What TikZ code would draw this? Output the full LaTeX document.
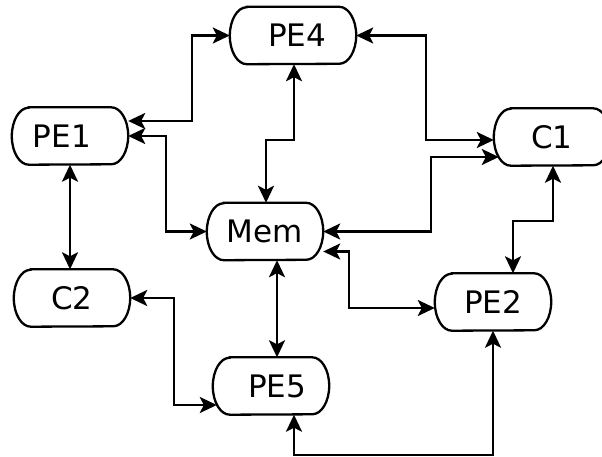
\documentclass[tikz,border=0pt]{standalone}
\usepackage{fontspec}
\setmainfont{DejaVu Sans}
\usetikzlibrary{arrows.meta,calc}
\begin{document}
\begin{tikzpicture}[x=1pt,y=-1pt,
  unit/.style={minimum width=116pt,minimum height=57pt,inner sep=0pt,
    font=\fontsize{31}{37}\selectfont},
  outline/.style={line width=2.3pt},
  head/.tip={Stealth[length=17pt,width=16pt,inset=4pt]},
  link/.style={line width=2.4pt,head-head}]
\useasboundingbox (0,0) rectangle (602,457);

% processing elements, caches and memory
\node[unit,minimum width=126pt] (pe4) at (293,35.5) {\kern8pt PE4};
\node[unit] (pe1) at (70,136) {PE1\kern16pt};
\node[unit] (c1)  at (552,137) {C1};
\node[unit] (mem) at (265,231.5) {Mem};
\node[unit] (c2)  at (72,298) {C2};
\node[unit] (pe2) at (493,302) {PE2};
\node[unit] (pe5) at (271,386) {\kern12pt PE5};

% capsule outlines with elliptic ends
\foreach \n in {pe4,pe1,c1,mem,c2,pe2,pe5}
  \draw[outline] ($(\n.north west)+(17pt,0)$) -- ($(\n.north east)+(-17pt,0)$)
    arc[start angle=90,end angle=-90,x radius=17pt,y radius=28.5pt]
    -- ($(\n.south west)+(17pt,0)$)
    arc[start angle=270,end angle=90,x radius=17pt,y radius=28.5pt] -- cycle;

% bidirectional links
\draw[link] ($(pe1.east)+(0,-15)$) -- ++(64,0) |- (pe4.west);
\draw[link] (pe1.east) -- ++(38,0) |- (mem.west);
\draw[link] (pe4.east) -- ++(70,0) |- ($(c1.west)+(0,3)$);
\draw[link] (mem.east) -| ($(c1.west)+(-63,20)$) -- ($(c1.west)+(5,20)$);
\draw[link] ($(pe4.south)+(1,0)$) -- ++(0,76) -| ($(mem.north)+(1,0)$);
\draw[link] ($(mem.east)+(0,20)$) -- ++(26,0) |- ($(pe2.west)+(0,6)$);
\draw[link] ($(mem.south)+(12,0)$) -- ($(pe5.north)+(6,0)$);
\draw[link] ($(c1.south)+(1,0)$) -- ++(0,55) -| ($(pe2.north)+(20,0)$);
\draw[link] (pe1.south) -- (pe1.south |- c2.north);
\draw[link] (c2.east) -- ++(44,0) |- ($(pe5.west)+(4,19)$);
\draw[link] ($(pe5.south)+(23,0)$) -- ++(0,40.5) -| (pe2.south);
\end{tikzpicture}
\end{document}
